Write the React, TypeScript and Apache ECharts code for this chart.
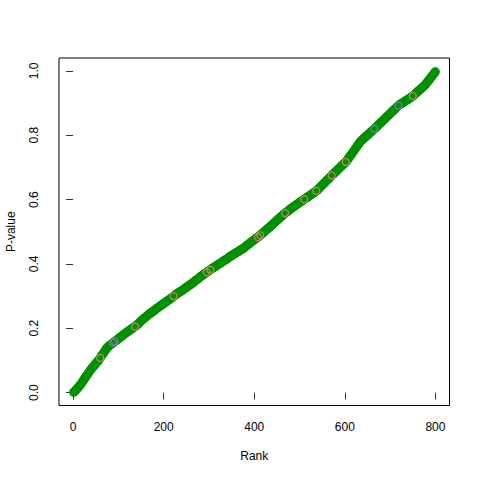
import React, { useEffect, useRef } from "react";
import * as echarts from "echarts";

// Sorted p-values (in thousandths) for ranks 1..800
const pThousandths: number[] = [
  1,2,3,5,6,8,9,11,13,14,16,17,19,21,22,24,
  26,28,30,32,34,36,38,41,43,45,47,49,51,53,55,57,59,61,63,65,67,70,
  72,73,75,77,78,80,82,83,85,87,88,90,92,93,95,97,98,100,
  102,104,106,108,111,113,115,117,119,121,123,125,127,129,131,133,135,138,140,
  141,142,143,145,146,147,148,149,150,151,152,153,155,156,157,
  158,159,160,161,162,163,164,165,166,167,169,170,171,172,
  173,174,175,176,177,178,180,181,182,183,184,185,186,187,188,189,190,191,192,193,194,195,196,197,198,199,200,201,202,203,204,205,205,
  206,208,209,210,212,213,214,216,217,218,220,221,222,224,225,226,228,229,230,231,232,234,235,
  236,237,238,239,241,242,243,244,245,246,247,248,249,250,251,252,253,254,255,257,258,
  259,260,261,262,263,264,265,266,267,268,269,270,271,272,273,274,275,276,277,278,279,280,281,282,283,284,285,286,287,288,289,290,291,292,293,294,295,296,297,298,300,
  301,302,303,304,305,306,307,308,309,310,311,312,313,313,314,315,316,317,318,319,320,321,322,323,324,325,326,327,328,329,330,331,332,333,334,335,336,
  337,338,339,340,341,342,343,345,346,347,348,349,350,351,352,353,354,355,356,358,359,360,361,362,363,364,365,366,367,368,369,370,371,372,373,374,375,376,377,378,
  379,380,381,382,383,384,385,386,387,388,389,389,390,391,392,393,394,395,396,397,398,399,400,401,401,402,403,404,405,406,407,408,409,410,411,412,413,413,414,415,416,417,418,420,
  421,422,423,423,424,425,426,427,428,429,429,430,431,432,433,434,435,436,436,437,438,439,440,441,442,443,443,444,445,446,447,448,449,
  450,451,452,453,454,456,457,458,459,460,461,462,463,464,465,466,468,469,470,471,472,473,474,475,476,477,478,480,481,482,483,483,484,
  485,487,488,489,490,492,493,494,495,497,498,499,500,502,503,504,505,506,508,509,510,511,512,514,515,516,
  517,519,520,521,523,524,525,526,528,529,530,531,533,534,535,537,538,539,540,542,543,544,546,547,548,549,551,552,553,554,556,557,558,
  559,560,561,562,563,564,565,566,567,568,570,571,572,573,574,575,576,577,578,579,580,581,582,583,584,585,586,587,588,589,
  590,591,592,593,594,595,596,597,598,599,600,601,602,603,604,605,606,606,607,608,609,610,611,612,613,614,615,616,617,618,619,620,621,622,623,624,625,626,627,628,
  629,631,632,634,635,636,638,639,641,642,644,645,646,648,649,651,652,653,655,656,658,659,661,662,663,665,666,668,669,670,672,673,675,
  676,678,679,680,682,683,684,686,687,688,690,691,693,694,695,697,698,699,701,702,703,705,706,708,709,710,712,713,714,716,717,718,720,
  722,724,726,728,730,732,734,736,738,740,742,744,746,748,750,752,754,756,758,760,762,764,766,768,770,772,774,776,778,780,
  781,783,784,785,787,788,789,790,792,793,794,796,797,798,799,801,802,803,805,806,807,808,810,811,812,814,815,816,817,819,820,821,822,
  823,825,826,828,829,830,832,833,835,836,837,839,840,841,843,844,846,847,848,850,851,852,854,855,857,858,
  859,861,862,863,865,866,867,869,870,872,873,874,876,877,878,880,881,882,884,885,887,888,889,891,892,
  893,894,895,896,897,898,899,900,900,901,902,903,904,905,906,907,908,909,910,910,911,912,913,914,915,916,917,918,919,920,921,922,923,
  924,926,927,928,929,931,932,933,935,936,937,938,940,941,942,943,945,946,947,949,950,951,952,954,955,956,
  958,960,962,963,965,967,969,971,972,974,976,978,980,981,983,985,987,989,990,992,994,996,998,
];

// Ranks highlighted with coloured rings
const salmonRanks: number[] = [60, 137, 222, 295, 303, 408, 413, 468, 510, 537, 571, 602, 750];
const purpleRanks: number[] = [88, 92, 665, 718];

const xTicks: number[] = [0, 200, 400, 600, 800];
const yTicks: number[] = [0, 0.2, 0.4, 0.6, 0.8, 1.0];

const FONT = "'Liberation Sans', Arial, Helvetica, sans-serif";

export default function App() {
  const ref = useRef<HTMLDivElement>(null);

  useEffect(() => {
    if (!ref.current) return;
    const chart = echarts.init(ref.current, undefined, { renderer: "svg" });

    const allPoints = pThousandths.map((v, i) => [i + 1, v / 1000]);
    const pick = (ranks: number[]) =>
      ranks.map((r) => [r, pThousandths[r - 1] / 1000]);

    chart.setOption({
      animation: false,
      backgroundColor: "#ffffff",
      grid: {
        left: 59,
        right: 30.5,
        top: 58,
        bottom: 74.5,
        show: true,
        borderColor: "#000",
        borderWidth: 1,
        backgroundColor: "transparent",
        containLabel: false,
        outerBoundsMode: "none",
      },
      xAxis: {
        type: "value",
        min: -31,
        max: 831,
        name: "Rank",
        nameLocation: "middle",
        nameGap: 44,
        nameTextStyle: { color: "#000", fontSize: 12, fontFamily: FONT },
        axisLine: { show: false },
        splitLine: { show: false },
        axisTick: {
          show: true,
          length: 7,
          customValues: xTicks,
          lineStyle: { color: "#333", width: 1 },
        },
        axisLabel: {
          show: true,
          customValues: xTicks,
          margin: 15,
          color: "#000",
          fontSize: 12,
          fontFamily: FONT,
        },
      },
      yAxis: {
        type: "value",
        min: -0.04,
        max: 1.04,
        name: "P-value",
        nameLocation: "middle",
        nameGap: 42,
        nameRotate: 90,
        nameTextStyle: { color: "#000", fontSize: 12, fontFamily: FONT },
        axisLine: { show: false },
        splitLine: { show: false },
        axisTick: {
          show: true,
          length: 7,
          customValues: yTicks,
          lineStyle: { color: "#333", width: 1 },
        },
        axisLabel: {
          show: true,
          customValues: yTicks,
          rotate: 90,
          margin: 19,
          color: "#000",
          fontSize: 12,
          fontFamily: FONT,
          formatter: (v: number) => v.toFixed(1),
        },
      },
      series: [
        {
          type: "scatter",
          data: allPoints,
          symbol: "circle",
          symbolSize: 7,
          itemStyle: { color: "transparent", borderColor: "#009100", borderWidth: 2 },
          emphasis: { disabled: true },
          z: 2,
        },
        {
          type: "scatter",
          data: pick(salmonRanks),
          symbol: "circle",
          symbolSize: 7,
          itemStyle: { color: "transparent", borderColor: "#F08878", borderWidth: 1.2 },
          emphasis: { disabled: true },
          z: 3,
        },
        {
          type: "scatter",
          data: pick(purpleRanks),
          symbol: "circle",
          symbolSize: 7,
          itemStyle: { color: "transparent", borderColor: "#A070E8", borderWidth: 1.2 },
          emphasis: { disabled: true },
          z: 4,
        },
      ],
    });

    return () => chart.dispose();
  }, []);

  return (
    <div
      ref={ref}
      style={{ position: "fixed", left: 0, top: 0, width: 480, height: 480, background: "#fff" }}
    />
  );
}
